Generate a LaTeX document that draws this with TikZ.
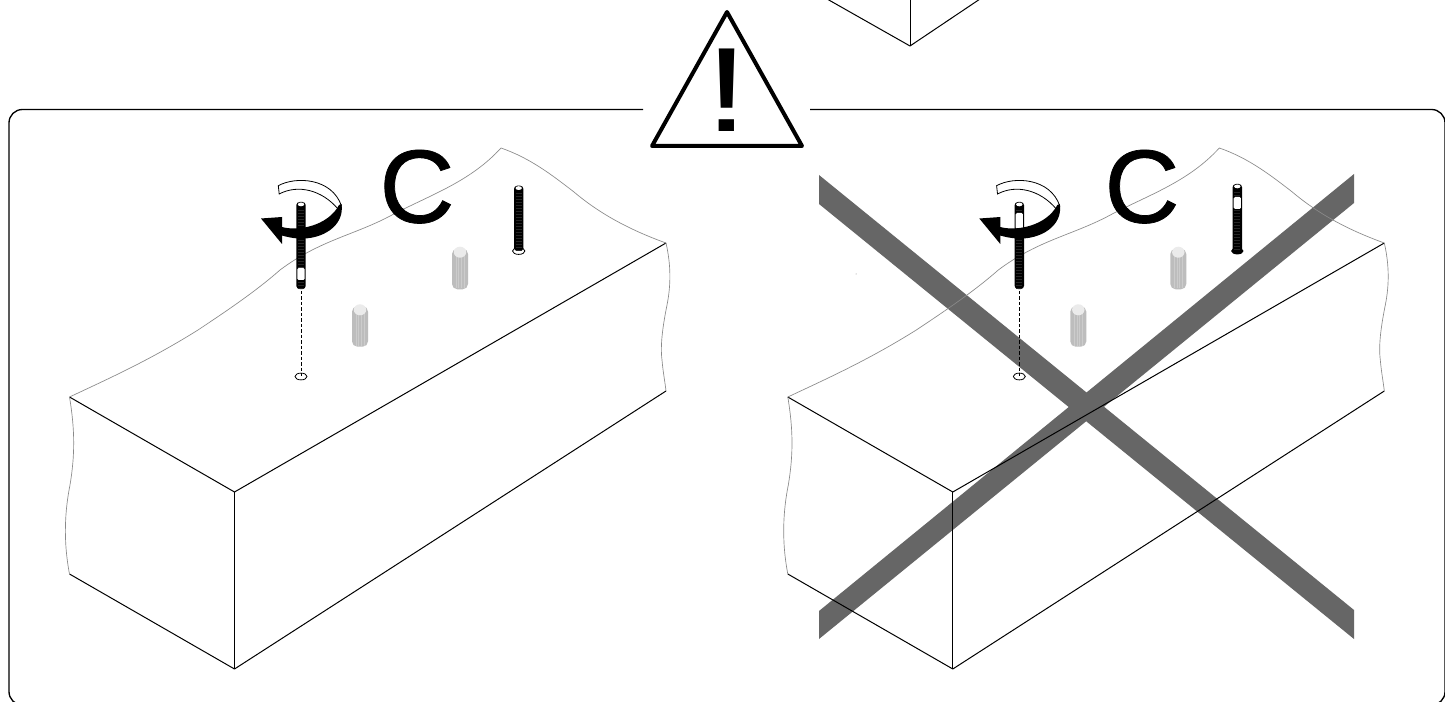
\documentclass[tikz,border=0pt]{standalone}
\usepackage{fontspec}
\setmainfont{Liberation Sans}
\newfontfamily\heavyfont[FakeBold=0.7]{Liberation Sans}
\definecolor{bandgrey}{HTML}{666666}
\definecolor{peggrey}{HTML}{BDBDBD}
\definecolor{pegline}{HTML}{CCCCCC}
\definecolor{cutgrey}{HTML}{8A8A8A}
\definecolor{threadgrey}{HTML}{262626}
\tikzset{
  edgeline/.style={black,line width=0.75pt,line join=round},
  cutline/.style={cutgrey,line width=0.5pt},
  bandshape/.style={fill=bandgrey,draw=none},
  framepath/.style={black,line width=1pt,rounded corners=10pt},
  warn/.style={black,line width=3pt,line join=round},
  bigletter/.style={inner sep=0pt,anchor=base,font=\heavyfont\fontsize{78pt}{78pt}\selectfont},
  marktext/.style={inner sep=0pt,anchor=base,font=\fontsize{90pt}{90pt}\selectfont},
  dashline/.style={black,line width=0.75pt,dash pattern=on 2.6pt off 1.5pt},
}
% x, top, bottom, white top, white bottom
\newcommand{\drawbolt}[5]{%
  \fill[black,rounded corners=2.4pt] (#1-4.7,#2) rectangle (#1+4.7,#3);
  \begin{scope}
    \clip (#1-4.7,#2) rectangle (#1+4.7,#3);
    \foreach \ty in {0,3,...,90}{\draw[threadgrey,line width=0.5pt] (#1-3,#2+8+\ty) -- (#1+3,#2+8+\ty);}
  \end{scope}
  \fill[white,rounded corners=1pt] (#1-3.6,#4) rectangle (#1+3.6,#5);
  \fill[white] (#1,#2+2.4) ellipse [x radius=3.2,y radius=1.9];
}
\newcommand{\drawpeg}[3]{%
  \fill[peggrey,rounded corners=4pt] (#1-8,#2+2) rectangle (#1+8,#3);
  \foreach \dx in {-4,-1.3,1.3,4}{\draw[pegline,line width=0.6pt] (#1+\dx,#2+8) -- (#1+\dx,#3-1);}
  \fill[white!92!black] (#1,#2+5.5) ellipse [x radius=6.2,y radius=5.5];
}
\newcommand{\drawhole}[1]{%
  \draw[black,line width=0.6pt,fill=white] (#1,376.5) ellipse [x radius=6,y radius=3.4];
  \draw[dashline] (#1,291) -- (#1,376.5);
}
\newcommand{\drawtwist}{%
  \draw[black,line width=0.6pt,fill=white] (278.3,185.7) .. controls (296,176) and (332,178) .. (341.5,206) -- (338,209)
     .. controls (322,190) and (298,184) .. (279.2,194) -- cycle;
  \fill[black] (341.5,204) .. controls (345,226) and (322,240) .. (298,238.5)
     .. controls (292,238) and (287,237) .. (282,235.5) -- (282,244) -- (261,218.5) -- (282,217) -- (282,227)
     .. controls (298,231.5) and (328,226) .. (339,205) -- cycle;
}
\newcommand{\drawblock}{%
  \draw[edgeline] (69.5,397) -- (234.5,492) -- (666,243);
  \draw[edgeline] (234.5,492) -- (234.5,669);
  \draw[edgeline] (69.5,574) -- (234.5,669) -- (666,391);
  \draw[cutline] (69.5,397) .. controls (110,378) and (150,360) .. (198,330)
    .. controls (225,312) and (255,292) .. (280,270)
    .. controls (320,240) and (355,235) .. (392,215)
    .. controls (430,195) and (470,182) .. (501,148)
    .. controls (530,158) and (552,175) .. (574,192)
    .. controls (600,214) and (630,230) .. (666,243);
  \draw[cutline] (666,243) .. controls (671,265) and (671,285) .. (667,305) .. controls (663,325) and (660,345) .. (662,360) .. controls (663,372) and (665,382) .. (666,391);
  \draw[cutline] (69.5,397) .. controls (75,430) and (75,455) .. (70,485) .. controls (65,510) and (63,540) .. (69.5,574);
}
\begin{document}
\begin{tikzpicture}[x=0.75pt,y=-0.75pt]
\useasboundingbox (0,0) rectangle (1445,702);
\begin{scope}
\clip (0,0) rectangle (1445,702);
\fill[white] (0,0) rectangle (1445,702);
% frame
\draw[framepath] (643,109.5) -- (9,109.5) -- (9,705) -- (1445,705) -- (1445,109.5) -- (810,109.5);
% block above
\draw[edgeline] (820,-5) -- (910,46) -- (986,-5);
\draw[edgeline] (910,-5) -- (910,46);
% warning
\draw[warn] (727,12) -- (802,146) -- (652,146) -- cycle;
\node[marktext] (mark) at (727,132) {\scalebox{1.35}[1]{!}};
% X bands
\fill[bandshape] (819,175) -- (1354,610) -- (1354,639) -- (819,204) -- cycle;
\fill[bandshape] (819,611) -- (1354,174) -- (1354,203) -- (819,639) -- cycle;
% left
\drawblock
\node[bigletter] (cleft) at (417,222.5) {C};
\drawpeg{360}{304.3}{346.7}
\drawpeg{460}{246.7}{289.3}
\drawhole{301}
\drawbolt{301}{202}{289}{268}{280}
\drawtwist
\draw[black,line width=0.6pt,fill=white] (518.7,251) ellipse [x radius=6.2,y radius=3.4];
\drawbolt{518.7}{185.7}{251}{0}{0}
% right
\begin{scope}[xshift=718.3*0.75pt]
\drawblock
\drawpeg{360}{304.3}{346.7}
\drawpeg{460}{246.7}{289.3}
\drawhole{301}
\drawbolt{301}{202}{289}{213}{229}
\drawtwist
\fill[black] (519,251) ellipse [x radius=6.2,y radius=3.4];
\drawbolt{519}{184}{252}{197}{209}
\end{scope}
\node[bigletter] (cright) at (1142,222.5) {C};
\fill[cutgrey] (856,274) circle [radius=0.5];
\end{scope}
\end{tikzpicture}
\end{document}
